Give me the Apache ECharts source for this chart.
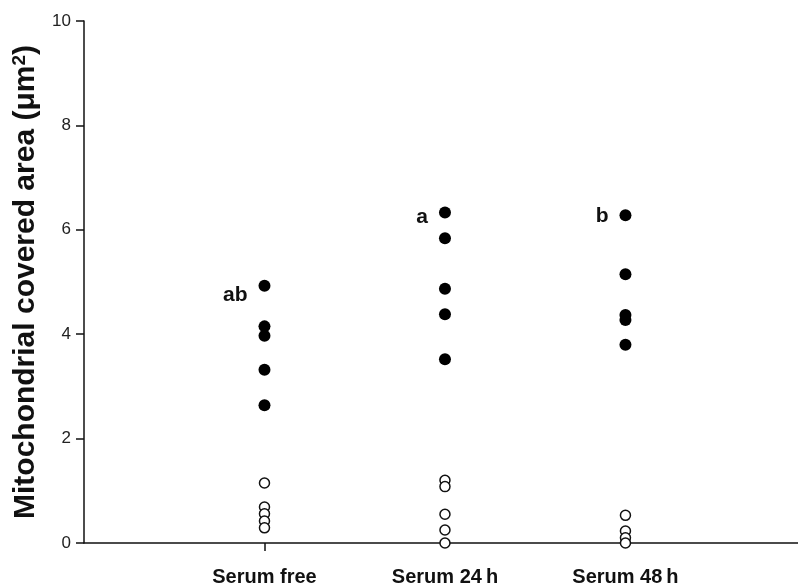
<!DOCTYPE html>
<html>
<head>
<meta charset="utf-8">
<script src="https://cdn.jsdelivr.net/npm/echarts@6/dist/echarts.min.js"></script>
<style>html,body{margin:0;padding:0;background:#fff}#c{width:798px;height:587px}</style>
</head>
<body>
<div id="c"></div>
<script>
var categories = ['Serum free', 'Serum 24\u2009h', 'Serum 48\u2009h'];
var yTicks = [0, 2, 4, 6, 8, 10];
var filledFree = [4.93, 4.15, 3.97, 3.32, 2.64];
var filled24 = [6.33, 5.84, 4.87, 4.38, 3.52];
var filled48 = [6.28, 5.15, 4.37, 4.27, 3.80];
var openFree = [1.15, 0.69, 0.56, 0.42, 0.29];
var open24 = [1.20, 1.08, 0.55, 0.25, 0.00];
var open48 = [0.53, 0.23, 0.10, 0.00];
var letters = ['ab', 'a', 'b'];

// label style tweaks (not data)
var letterOffsets = [[0, 10], [0, 5], [0, 1]];

function pts(vals, pos, gi) {
  return vals.map(function (v, i) {
    var d = { value: [pos, v] };
    if (gi !== undefined && i === 0) {
      d.label = { show: true, formatter: letters[gi], offset: letterOffsets[gi] };
    }
    return d;
  });
}

var filledData = [].concat(pts(filledFree, 1, 0), pts(filled24, 2, 1), pts(filled48, 3, 2));
var openData = [].concat(pts(openFree, 1), pts(open24, 2), pts(open48, 3));

var FONT = 'Liberation Sans, Arial, sans-serif';
var chart = echarts.init(document.getElementById('c'), null, { renderer: 'canvas' });
chart.setOption({
  animation: false,
  backgroundColor: '#fff',
  grid: { left: 84, right: 0, top: 21, bottom: 44, containLabel: false },
  xAxis: {
    type: 'value', min: 0, max: 3.956,
    splitLine: { show: false },
    axisLine: { show: true, onZero: false, lineStyle: { color: '#111', width: 1.5 } },
    axisTick: { show: true, customValues: [1], length: 8, lineStyle: { color: '#111', width: 1.5 } },
    axisLabel: {
      show: true, customValues: [1, 2, 3], margin: 24,
      formatter: function (v) { return categories[Math.round(v) - 1] || ''; },
      fontFamily: FONT, fontWeight: 'bold', fontSize: 20, color: '#111'
    }
  },
  yAxis: {
    type: 'value', min: 0, max: 10, interval: 2,
    name: '{t|Mitochondrial covered area (\u03bcm}{s|2}{t|)}',
    nameLocation: 'middle', nameGap: 41, nameRotate: 90,
    nameTextStyle: {
      rich: {
        t: { fontFamily: FONT, fontWeight: 'bold', fontSize: 30, color: '#111' },
        s: { fontFamily: FONT, fontWeight: 'bold', fontSize: 19, color: '#111', verticalAlign: 'top', padding: [0, 0, 12, 0] }
      }
    },
    splitLine: { show: false },
    axisLine: { show: true, lineStyle: { color: '#111', width: 1.5 } },
    axisTick: { show: true, length: 8, lineStyle: { color: '#111', width: 1.5 } },
    axisLabel: {
      margin: 13, fontFamily: FONT, fontSize: 17, color: '#222',
      formatter: function (v) { return yTicks.indexOf(v) >= 0 ? String(v) : ''; }
    }
  },
  series: [
    {
      type: 'scatter', data: openData, symbol: 'circle', symbolSize: 10, clip: false, z: 5,
      itemStyle: { color: '#fff', borderColor: '#111', borderWidth: 1.5, opacity: 1 }
    },
    {
      type: 'scatter', data: filledData, symbol: 'circle', symbolSize: 12, clip: false, z: 6,
      itemStyle: { color: '#000', opacity: 1 },
      label: {
        show: false, position: 'left', distance: 11,
        fontFamily: FONT, fontWeight: 'bold', fontSize: 21, color: '#111'
      }
    }
  ]
});
</script>
</body>
</html>
